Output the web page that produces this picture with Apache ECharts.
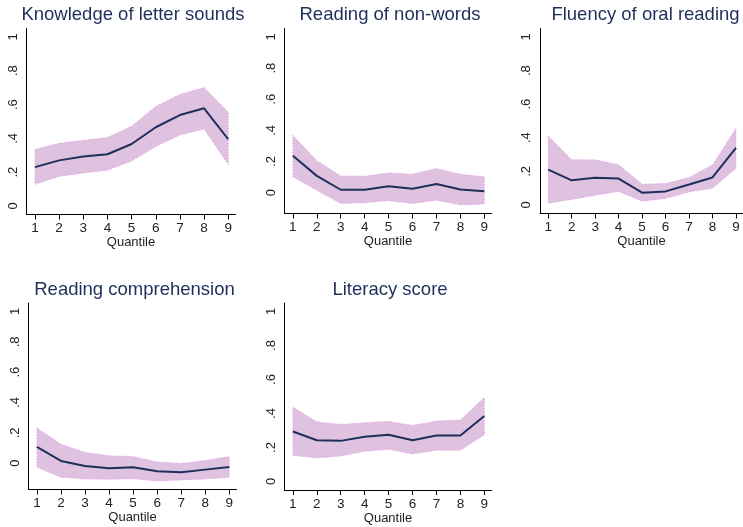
<!DOCTYPE html>
<html>
<head>
<meta charset="utf-8">
<script src="https://cdn.jsdelivr.net/npm/echarts@6/dist/echarts.min.js"></script>
<style>
  html, body { margin: 0; padding: 0; background: #fff; }
  #chart { width: 743px; height: 527px; }
</style>
</head>
<body>
<div id="chart"></div>
<script>
// Quantile positions shared by every panel
const quantiles = [1, 2, 3, 4, 5, 6, 7, 8, 9];
const yTicks = [0, 0.2, 0.4, 0.6, 0.8, 1];

// Panel titles
const titles = [
  'Knowledge of letter sounds',
  'Reading of non-words',
  'Fluency of oral reading',
  'Reading comprehension',
  'Literacy score'
];

// Point estimates and confidence bounds per panel
const letterEst   = [0.23, 0.27, 0.293, 0.306, 0.367, 0.466, 0.538, 0.578, 0.395];
const letterUpper = [0.334, 0.371, 0.389, 0.405, 0.472, 0.589, 0.66, 0.701, 0.554];
const letterLower = [0.128, 0.175, 0.196, 0.212, 0.267, 0.352, 0.42, 0.456, 0.246];

const nonwordEst   = [0.2375, 0.108, 0.019, 0.019, 0.042, 0.025, 0.056, 0.021, 0.01];
const nonwordUpper = [0.369, 0.206, 0.108, 0.106, 0.127, 0.119, 0.156, 0.119, 0.102];
const nonwordLower = [0.102, 0.015, -0.069, -0.065, -0.052, -0.069, -0.048, -0.079, -0.073];

const fluencyEst   = [0.211, 0.147, 0.162, 0.157, 0.0735, 0.081, 0.122, 0.164, 0.34];
const fluencyUpper = [0.41, 0.269, 0.269, 0.24, 0.124, 0.128, 0.164, 0.238, 0.455];
const fluencyLower = [0.01, 0.033, 0.058, 0.081, 0.023, 0.039, 0.077, 0.1, 0.217];

const comprehEst   = [0.108, 0.015, -0.018, -0.033, -0.026, -0.053, -0.06, -0.042, -0.024];
const comprehUpper = [0.232, 0.126, 0.071, 0.049, 0.044, 0.009, -0.002, 0.018, 0.044];
const comprehLower = [-0.026, -0.093, -0.104, -0.106, -0.102, -0.117, -0.11, -0.104, -0.093];

const literacyEst   = [0.294, 0.243, 0.239, 0.263, 0.275, 0.243, 0.271, 0.271, 0.385];
const literacyUpper = [0.437, 0.352, 0.336, 0.346, 0.354, 0.33, 0.356, 0.362, 0.494];
const literacyLower = [0.154, 0.138, 0.15, 0.178, 0.19, 0.162, 0.184, 0.184, 0.275];

const panels = [
  { title: titles[0], est: letterEst,   upper: letterUpper,   lower: letterLower },
  { title: titles[1], est: nonwordEst,  upper: nonwordUpper,  lower: nonwordLower },
  { title: titles[2], est: fluencyEst,  upper: fluencyUpper,  lower: fluencyLower },
  { title: titles[3], est: comprehEst,  upper: comprehUpper,  lower: comprehLower },
  { title: titles[4], est: literacyEst, upper: literacyUpper, lower: literacyLower }
];

// Plot-region placement for the 3 x 2 layout
const boxes = [
  { left: 26.5,  top: 28.5, width: 209, height: 186 },
  { left: 284.5, top: 28.5, width: 207, height: 185 },
  { left: 540,   top: 28.5, width: 207, height: 185 },
  { left: 28.5,  top: 303,  width: 208, height: 186.5 },
  { left: 284.5, top: 303,  width: 207, height: 187 }
];

const NAVY = '#1f2f5c';
const FONT = '"Liberation Sans", Arial, Helvetica, sans-serif';
const PAD = 8.5; // px of breathing room above/below the data range

const chart = echarts.init(document.getElementById('chart'), null, { renderer: 'canvas' });

const grid = [], xAxis = [], yAxis = [], series = [], title = [];

panels.forEach((p, i) => {
  const b = boxes[i];
  grid.push({ left: b.left, top: b.top, width: b.width, height: b.height, containLabel: false });

  // y range: cover 0..1 and the band, plus a fixed pixel margin
  const lo = Math.min(0, ...p.lower);
  const hi = Math.max(1, ...p.upper);
  const scale = (b.height - 2 * PAD) / (hi - lo);
  const ymin = lo - PAD / scale;
  const ymax = hi + PAD / scale;

  title.push({
    text: p.title,
    left: b.left + b.width / 2 - 3,
    top: b.top - 28,
    textAlign: 'center',
    textStyle: { fontFamily: FONT, fontSize: 18.5, fontWeight: 'normal', color: NAVY }
  });

  xAxis.push({
    gridIndex: i,
    type: 'value',
    min: 0.65,
    max: 9.3,
    name: 'Quantile',
    nameLocation: 'middle',
    nameGap: 20,
    nameTextStyle: { fontFamily: FONT, fontSize: 13, color: '#222', verticalAlign: 'top' },
    axisLine: { show: true, onZero: false, lineStyle: { color: '#000', width: 1 } },
    axisTick: { show: true, length: 5, inside: false, customValues: quantiles, lineStyle: { color: '#000' } },
    axisLabel: { fontFamily: FONT, fontSize: 13.5, color: '#222', margin: 7, customValues: quantiles,
                 showMinLabel: true, showMaxLabel: true },
    splitLine: { show: false }
  });

  yAxis.push({
    gridIndex: i,
    type: 'value',
    min: ymin,
    max: ymax,
    axisLine: { show: true, onZero: false, lineStyle: { color: '#000', width: 1 } },
    axisTick: { show: false, customValues: yTicks },
    axisLabel: {
      fontFamily: FONT, fontSize: 13, color: '#222', rotate: 90, margin: 7,
      customValues: yTicks,
      formatter: v => {
        const r = Math.round(v * 10) / 10;
        if (r === 0) return '0';
        if (r === 1) return '1';
        return r.toFixed(1).replace(/^0/, '');
      }
    },
    splitLine: { show: false }
  });

  // Confidence band drawn as one polygon: upper bound forward, lower bound back
  series.push({
    type: 'custom',
    xAxisIndex: i,
    yAxisIndex: i,
    data: [0],
    silent: true,
    clip: true,
    renderItem: (params, api) => {
      const pts = [];
      quantiles.forEach((q, k) => pts.push(api.coord([q, p.upper[k]])));
      for (let k = quantiles.length - 1; k >= 0; k--) pts.push(api.coord([quantiles[k], p.lower[k]]));
      return {
        type: 'polygon',
        shape: { points: pts },
        style: { fill: '#dfc2e0', stroke: '#e68ee6', lineWidth: 1, lineDash: [1, 2] }
      };
    },
    z: 1
  });

  // Point estimate line
  series.push({
    type: 'line',
    xAxisIndex: i,
    yAxisIndex: i,
    data: quantiles.map((q, k) => [q, p.est[k]]),
    showSymbol: false,
    symbol: 'none',
    lineStyle: { color: NAVY, width: 2 },
    silent: true,
    animation: false,
    z: 3
  });
});

chart.setOption({
  animation: false,
  backgroundColor: '#fff',
  title,
  grid,
  xAxis,
  yAxis,
  series
});
</script>
</body>
</html>
